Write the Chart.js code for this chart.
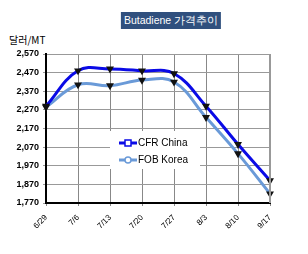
<!DOCTYPE html>
<html>
<head>
<meta charset="utf-8">
<script src="https://cdn.jsdelivr.net/npm/chart.js@4/dist/chart.umd.min.js"></script>
<style>
  html, body { margin: 0; padding: 0; background: #fff; }
  .wrap { position: relative; width: 308px; height: 254px; }
  .title {
    position: absolute; left: 171px; top: 12px; transform: translateX(-50%);
    padding: 0 3px; height: 17px;
    background: #30507e; color: #fff; font: 10.5px "Liberation Sans", Arial, sans-serif;
    line-height: 17px; white-space: nowrap;
  }
  .unit {
    position: absolute; left: 9px; top: 32px;
    font: 10px "Noto Sans CJK KR", "Liberation Sans", sans-serif; color: #000;
  }
  canvas { position: absolute; left: 0; top: 0; }
</style>
</head>
<body>
<div class="wrap">
  <div class="title">Butadiene 가격추이</div>
  <div class="unit">달러/MT</div>
  <canvas id="chart" width="308" height="254"></canvas>
</div>
<script>
const dates = ["6/29", "7/6", "7/13", "7/20", "7/27", "8/3", "8/10", "9/17"];
const cfrChina = [2290, 2480, 2490, 2480, 2465, 2290, 2085, 1890];
const fobKorea = [2285, 2405, 2400, 2430, 2420, 2230, 2035, 1820];
const yTicks = [1770, 1870, 1970, 2070, 2170, 2270, 2370, 2470, 2570];

const legendBox = {
  id: "legendBox",
  afterDraw(chart) {
    const ctx = chart.ctx;
    const x0 = 110, y0 = 131, w = 90, h = 38;
    ctx.save();
    ctx.fillStyle = "#fff";
    ctx.fillRect(x0, y0, w, h);

    // right border of plot area
    const area = chart.chartArea;
    ctx.strokeStyle = "#999";
    ctx.lineWidth = 2;
    ctx.beginPath();
    ctx.moveTo(area.right, area.top);
    ctx.lineTo(area.right, area.bottom);
    ctx.stroke();

    chart.data.datasets.forEach((ds, i) => {
      const ly = 143 + i * 17;
      ctx.strokeStyle = ds.borderColor;
      ctx.lineWidth = ds.borderWidth;
      ctx.beginPath();
      ctx.moveTo(119, ly);
      ctx.lineTo(137, ly);
      ctx.stroke();
      ctx.fillStyle = "#fff";
      ctx.lineWidth = 1.5;
      ctx.beginPath();
      if (i === 0) {
        ctx.rect(125, ly - 3, 6, 6);
      } else {
        ctx.arc(128, ly, 3, 0, Math.PI * 2);
      }
      ctx.fill();
      ctx.stroke();
      ctx.fillStyle = "#000";
      ctx.font = "10px 'Liberation Sans', Arial, sans-serif";
      ctx.textBaseline = "middle";
      ctx.fillText(ds.label, 138, ly);
    });
    ctx.restore();
  },
};

new Chart(document.getElementById("chart"), {
  type: "line",
  data: {
    labels: dates,
    datasets: [
      {
        label: "CFR China",
        data: cfrChina,
        borderColor: "#0a0ae6",
        borderWidth: 3,
        tension: 0.4,
        pointStyle: "triangle",
        rotation: 180,
        pointRadius: 1.6,
        pointBackgroundColor: "#111",
        pointBorderColor: "#111",
      },
      {
        label: "FOB Korea",
        data: fobKorea,
        borderColor: "#6a9ad8",
        borderWidth: 3,
        tension: 0.4,
        pointStyle: "triangle",
        rotation: 180,
        pointRadius: 1.6,
        pointBackgroundColor: "#111",
        pointBorderColor: "#111",
      },
    ],
  },
  options: {
    responsive: false,
    animation: false,
    layout: { padding: { top: 54, right: 38, left: 0, bottom: 0 } },
    plugins: { legend: { display: false }, tooltip: { enabled: false } },
    scales: {
      x: {
        offset: false,
        afterFit: (s) => { s.height = 51; },
        grid: { color: "#888", lineWidth: 1, tickLength: 3 },
        border: { color: "#000", width: 2 },
        ticks: {
          minRotation: 45, maxRotation: 45, color: "#000", padding: 7,
          font: { size: 8, family: "'Liberation Sans', Arial, sans-serif" },
        },
      },
      y: {
        min: 1770, max: 2570,
        afterFit: (s) => { s.width = 46; },
        afterBuildTicks: (s) => { s.ticks = yTicks.map(v => ({ value: v })); },
        grid: { color: "#999", lineWidth: 1, tickLength: 3 },
        border: { color: "#000", width: 2, dash: [] },
        ticks: {
          color: "#000", padding: 4,
          font: { size: 9, weight: "bold", family: "'Liberation Sans', Arial, sans-serif" },
          callback: (v) => v.toLocaleString("en-US"),
        },
      },
    },
  },
  plugins: [legendBox],
});
</script>
</body>
</html>
